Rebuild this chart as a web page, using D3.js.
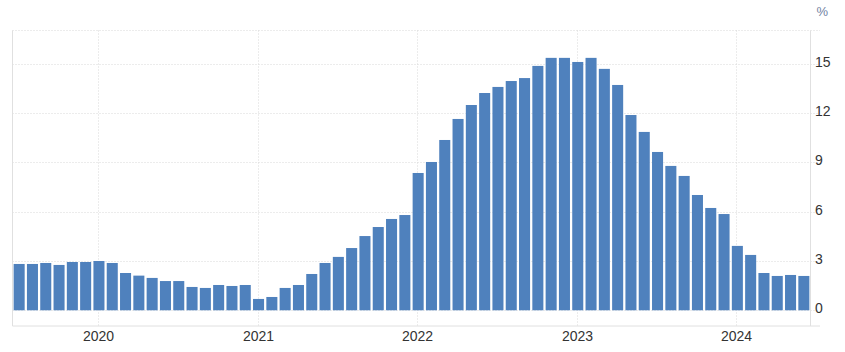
<!DOCTYPE html>
<html>
<head>
<meta charset="utf-8">
<script src="https://cdn.jsdelivr.net/npm/d3@7"></script>
<style>
  html, body { margin: 0; padding: 0; background: #fff; }
  svg { display: block; font-family: "Liberation Sans", Arial, sans-serif; }
</style>
</head>
<body>
<svg id="chart" width="845" height="352"></svg>
<script>
const months = [
  "2019-07","2019-08","2019-09","2019-10","2019-11","2019-12",
  "2020-01","2020-02","2020-03","2020-04","2020-05","2020-06","2020-07","2020-08","2020-09","2020-10","2020-11","2020-12",
  "2021-01","2021-02","2021-03","2021-04","2021-05","2021-06","2021-07","2021-08","2021-09","2021-10","2021-11","2021-12",
  "2022-01","2022-02","2022-03","2022-04","2022-05","2022-06","2022-07","2022-08","2022-09","2022-10","2022-11","2022-12",
  "2023-01","2023-02","2023-03","2023-04","2023-05","2023-06","2023-07","2023-08","2023-09","2023-10","2023-11","2023-12",
  "2024-01","2024-02","2024-03","2024-04","2024-05","2024-06"
];
const values = [
  2.82, 2.82, 2.88, 2.76, 2.94, 2.94,
  3.00, 2.88, 2.27, 2.11, 1.97, 1.78, 1.78, 1.42, 1.36, 1.54, 1.48, 1.54,
  0.69, 0.81, 1.36, 1.54, 2.21, 2.88, 3.25, 3.79, 4.52, 5.07, 5.56, 5.80,
  8.36, 9.03, 10.37, 11.65, 12.50, 13.23, 13.60, 13.96, 14.14, 14.88, 15.37, 15.37,
  15.12, 15.37, 14.70, 13.72, 11.89, 10.86, 9.64, 8.79, 8.18, 7.02, 6.23, 5.86,
  3.92, 3.37, 2.27, 2.09, 2.15, 2.09
];
const yearTicks = ["2020", "2021", "2022", "2023", "2024"];
const yTicks = [0, 3, 6, 9, 12, 15];
const unitLabel = "%";

(function () {
const svg = d3.select("#chart");
const pl = 12.5, pr = 810.5, pt = 30.5, pb = 326;

const x = d3.scaleBand().domain(months).range([pl, pr])
  .paddingInner(0.17).paddingOuter(0.085);
const y = d3.scaleLinear().domain([-1, 17]).range([326.7, 31.1]);

const gridColor = "#d9d9d9";
const borderColor = "#e0e0e0";

// horizontal dotted gridlines
svg.append("g").selectAll("line").data(yTicks).join("line")
  .attr("x1", pl).attr("x2", 819)
  .attr("y1", d => Math.round(y(d)) + 0.5).attr("y2", d => Math.round(y(d)) + 0.5)
  .attr("stroke", gridColor).attr("stroke-dasharray", "1,2");

// top dotted border
svg.append("line").attr("x1", pl).attr("x2", 820).attr("y1", pt).attr("y2", pt)
  .attr("stroke", gridColor).attr("stroke-dasharray", "1,2");

// vertical year gridlines
const yearX = yr => Math.round(x(yr + "-01") + x.bandwidth() / 2 - 1) + 0.5;
svg.append("g").selectAll("line").data(yearTicks).join("line")
  .attr("x1", d => yearX(d)).attr("x2", d => yearX(d))
  .attr("y1", pt).attr("y2", pb)
  .attr("stroke", gridColor).attr("stroke-dasharray", "1,2");

// bars
svg.append("g").selectAll("rect").data(values).join("rect")
  .attr("x", (d, i) => x(months[i]))
  .attr("width", x.bandwidth())
  .attr("y", d => y(d))
  .attr("height", d => y(0) - y(d))
  .attr("fill", "#4f81bd");

// solid borders
svg.append("line").attr("x1", pl).attr("x2", pl).attr("y1", pt).attr("y2", pb)
  .attr("stroke", borderColor);
svg.append("line").attr("x1", pr).attr("x2", pr).attr("y1", pt).attr("y2", pb)
  .attr("stroke", borderColor);
svg.append("line").attr("x1", pl).attr("x2", 820).attr("y1", pb).attr("y2", pb)
  .attr("stroke", borderColor);

// y labels (right)
svg.append("g").selectAll("text").data(yTicks).join("text")
  .attr("x", 815)
  .attr("y", d => y(d) + 3)
  .attr("font-size", 14)
  .attr("fill", "#333")
  .text(d => d);

// unit label
svg.append("text").attr("x", 816.5).attr("y", 15.5)
  .attr("font-size", 13).attr("fill", "#7283a3").text(unitLabel);

// year labels
svg.append("g").selectAll("text").data(yearTicks).join("text")
  .attr("x", d => yearX(d))
  .attr("y", 341)
  .attr("text-anchor", "middle")
  .attr("font-size", 14)
  .attr("fill", "#333")
  .text(d => d);
})();
</script>
</body>
</html>
